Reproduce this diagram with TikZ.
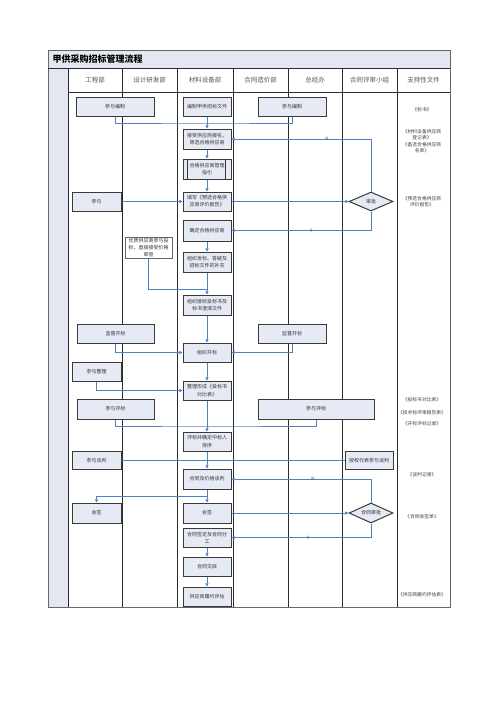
\documentclass[tikz,border=0pt]{standalone}
\usepackage{fontspec}
\setmainfont{Noto Sans CJK SC}
\usetikzlibrary{shapes.geometric,arrows.meta,calc}
\definecolor{lineblue}{HTML}{4F81BD}
\definecolor{boxfill}{HTML}{E6EAF4}
\definecolor{bandfill}{HTML}{E2E7F2}
\definecolor{boxdraw}{HTML}{3A3A3A}
\definecolor{lanegray}{HTML}{2B2B2B}
\definecolor{txtgray}{HTML}{555555}
\begin{document}
\begin{tikzpicture}[x=1pt,y=-1pt,
  box/.style={draw=boxdraw, line width=1pt, fill=boxfill, inner sep=0pt, align=center,
    font=\fontsize{5}{7.2}\selectfont, text=black!80},
  sz/.style 2 args={minimum width=#1pt, minimum height=#2pt},
  dia/.style={shape=diamond, draw=boxdraw, line width=1pt, fill=boxfill, inner sep=0pt,
    aspect=2.3, minimum width=44pt, minimum height=19pt, font=\fontsize{5}{6}\selectfont, text=black!80},
  thinbox/.style={draw=black!60, line width=0.5pt, fill=white, inner sep=0pt, align=center,
    font=\fontsize{5}{6.6}\selectfont, text=black!80},
  conn/.style={draw=lineblue, line width=0.7pt},
  arr/.style={conn, -{Triangle[length=3.2pt,width=3.2pt]}},
  lab/.style={font=\fontsize{4.5}{5}\selectfont, text=black!70, inner sep=0.3pt},
  hdr/.style={font=\fontsize{6.5}{7}\selectfont, text=txtgray},
  suptext/.style={font=\fontsize{4.8}{6.4}\selectfont, text=black!75, align=center},
  lane/.style={draw=lanegray, line width=0.9pt}
]
\useasboundingbox (0,0) rectangle (500,707);
% background bands
\fill[bandfill] (48,50) rectangle (450,68);
\fill[bandfill] (48,68) rectangle (68,607);
\node[anchor=west, font=\fontsize{9}{10}\selectfont\bfseries] (title) at (49,59) {甲供采购招标管理流程};
% header texts
\node[hdr] (h1) at (95,80) {工程部};
\node[hdr] (h2) at (149.5,80) {设计研发部};
\node[hdr] (h3) at (205,80) {材料设备部};
\node[hdr] (h4) at (260.5,80) {合同造价部};
\node[hdr] (h5) at (315,80) {总经办};
\node[hdr] (h6) at (369.5,80) {合同评审小组};
\node[hdr] (h7) at (423.5,80) {支持性文件};
% grid
\draw[draw=black!60, line width=0.9pt] (48,50) rectangle (450,607);
\draw[lane] (48,68) -- (450,68);
\draw[lane] (68,92) -- (450,92);
\foreach \xx in {68,122,177,233,288,342,397}{
  \draw[lane] (\xx,68) -- (\xx,607);
}
% support texts
\node[suptext] (t1) at (422,110) {《标书》};
\node[suptext] (t2) at (422,141.3) {《材料设备供应商\\登记表》\\《备选合格供应商\\名单》};
\node[suptext] (t3) at (422,201.5) {《预选合格供应商\\评价报告》};
\node[suptext] (t4) at (422,400) {《投标书对比表》};
\node[suptext] (t5) at (422,413) {《技术标评审报告表》};
\node[suptext] (t6) at (422,424) {《开标评标记录》};
\node[suptext] (t7) at (422,475) {《谈判记录》};
\node[suptext] (t8) at (422,517) {《合同会签单》};
\node[suptext] (t9) at (422,595) {《供应商履约评估表》};
% nodes
\node[box, sz={78}{19}] (a1) at (115,106.5) {参与编制};
\node[box, sz={48}{19}] (m1) at (207,106.5) {编制甲供招标文件};
\node[box, sz={68}{19}] (c1) at (292,106.5) {参与编制};
\node[box, sz={48}{20}] (m2) at (207,139) {接受供应商报名，\\筛选合格供应商};
\node[box, sz={48}{20}] (m3) at (207,169) {合格供应商管理\\指引};
\draw[boxdraw, line width=0.8pt] ($(m3.north west)+(5,0)$) -- ($(m3.south west)+(5,0)$);
\draw[boxdraw, line width=0.8pt] ($(m3.north east)+(-6,0)$) -- ($(m3.south east)+(-6,0)$);
\node[box, sz={49}{19}] (a2) at (96.5,201.5) {参与};
\node[box, sz={48}{19}] (m4) at (207,201.5) {填写《预选合格供\\应商评价报告》};
\node[dia] (d1) at (371,201.5) {审批};
\node[box, sz={48}{21}] (m5) at (207,230.5) {确定合格供应商};
\node[thinbox, minimum width=47pt, minimum height=21pt] (s1) at (148.5,247.5) {优质供应商参与投\\标，直接接受价格\\审查};
\node[box, sz={48}{20}] (m6) at (207,262) {组织发标、答疑及\\招标文件的补充};
\node[box, sz={48}{20}] (m7) at (207,305) {组织接收投标书及\\标书澄清文件};
\node[box, sz={77}{19}] (a3) at (115.5,333.5) {监督开标};
\node[box, sz={68}{19}] (c3) at (292,333.5) {监督开标};
\node[box, sz={48}{19}] (m8) at (207,352.5) {组织开标};
\node[box, sz={49}{19}] (a4) at (96.5,371.5) {参与整理};
\node[box, sz={48}{19}] (m9) at (207,390.5) {整理形成《投标书\\对比表》};
\node[box, sz={77}{20}] (a5) at (115.5,409) {参与评标};
\node[box, sz={116}{20}] (c5) at (316,409) {参与评标};
\node[box, sz={48}{19}] (m10) at (207,441.5) {评标并确定中标人\\排序};
\node[box, sz={49}{18}] (a6) at (96.5,460.5) {参与谈判};
\node[box, sz={48}{18}] (g1) at (369,460.5) {授权代表参与谈判};
\node[box, sz={48}{20}] (m11) at (207,479) {合同及价格谈判};
\node[box, sz={49}{20}] (a7) at (96.5,513) {会签};
\node[box, sz={48}{20}] (m12) at (207,513) {会签};
\node[dia, minimum height=20pt] (d2) at (371,513) {合同审批};
\node[box, sz={48}{19}] (m13) at (207,537.5) {合同签定及合同分\\工};
\node[box, sz={48}{19}] (m14) at (207,566.5) {合同交底};
\node[box, sz={48}{19}] (m15) at (207,596.5) {供应商履约评估};
% connectors
\coordinate (j1) at (207,123);
\draw[conn] (a1.south) |- (j1) -| (c1.south);
\draw[arr] (m1) -- (m2);
\draw[arr] (m2) -- (m3);
\draw[arr] (m3) -- (m4);
\draw[arr] (a2) -- (m4);
\draw[arr] (m4) -- (d1);
\draw[arr] (d1.north) |- (m2.east);
\node[lab] (ln1) at (327,139) {N};
\draw[arr] (d1.south) |- (m5.east);
\node[lab] (ly1) at (311,230.5) {Y};
\draw[arr] (m5) -- (m6);
\coordinate (j2) at (207,289);
\draw[conn] (s1.south) |- (j2);
\draw[arr] (m6) -- (m7);
\draw[arr] (m7) -- (m8);
\draw[arr] (a3.south) |- (m8.west);
\draw[arr] (c3.south) |- (m8.east);
\draw[arr] (m8) -- (m9);
\draw[arr] (a4.south) |- (m9.west);
\coordinate (j3) at (207,426);
\draw[conn] (a5.south) |- (j3) -| (c5.south);
\draw[arr] (m9) -- (m10);
\draw[conn] (a6.east) -- (g1.west);
\draw[arr] (m10) -- (m11);
\draw[arr] (d2.north) |- (m11.east);
\node[lab] (ln2) at (313,479) {N};
\coordinate (j4) at (207,496);
\draw[conn] (m11.south) -- (j4);
\draw[arr] (j4) -| (a7.north);
\draw[arr] (j4) -- (m12.north);
\draw[arr] (m12) -- (d2);
\draw[arr] (d2.south) |- (m13.east);
\node[lab] (ly2) at (308,537.5) {Y};
\draw[arr] (m13) -- (m14);
\draw[arr] (m14) -- (m15);
\end{tikzpicture}
\end{document}
